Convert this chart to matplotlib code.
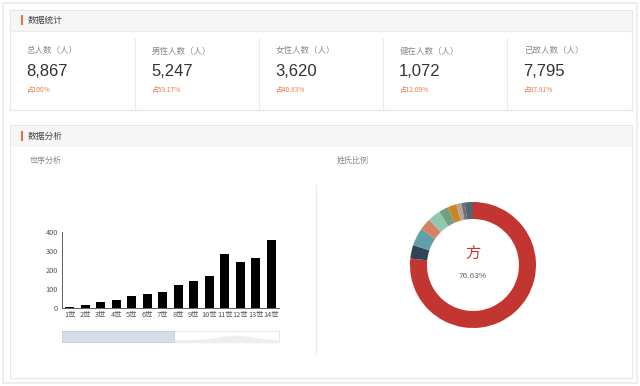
import matplotlib
matplotlib.use("Agg")
import matplotlib.pyplot as plt
from matplotlib.patches import Rectangle
import numpy as np

plt.rcParams['font.family'] = ['Noto Sans CJK SC', 'DejaVu Sans']

# ---------------- data ----------------
stat_labels = ["总人数（人）", "男性人数（人）", "女性人数（人）", "健在人数（人）", "已故人数（人）"]
stat_values = ["8,867", "5,247", "3,620", "1,072", "7,795"]
stat_pcts = ["占100%", "占59.17%", "占40.83%", "占12.09%", "占87.91%"]

generations = ["1世", "2世", "3世", "4世", "5世", "6世", "7世", "8世", "9世", "10世", "11世", "12世", "13世", "14世"]
gen_counts = [4, 18, 30, 42, 63, 75, 86, 119, 144, 168, 284, 242, 263, 356]
yticks = [0, 100, 200, 300, 400]

surnames = ["方", "姓2", "姓3", "姓4", "姓5", "姓6", "姓7", "姓8", "姓9", "姓10"]
surname_pcts = [76.63, 3.5, 4.5, 3.1, 3.3, 2.5, 2.2, 1.3, 0.9, 2.07]
pie_colors = ['#c23531', '#2f4554', '#61a0a8', '#d48265', '#91c7ae', '#749f83',
              '#ca8622', '#bda29a', '#6e7074', '#546570', '#c4ccd3']

W, H = 640, 386
fig = plt.figure(figsize=(W / 100, H / 100), dpi=100)
bg = fig.add_axes([0, 0, 1, 1])
bg.set_xlim(0, W)
bg.set_ylim(H, 0)
bg.axis('off')

def rect(x, y, w, h, fc='none', ec='none', lw=0.8, z=1):
    bg.add_patch(Rectangle((x, y), w, h, facecolor=fc, edgecolor=ec, linewidth=lw, zorder=z))

# page border
rect(3, 3, 634, 380, fc='white', ec='#eeeeee', lw=1.5)

# panel 1
rect(10, 10, 622, 100, fc='white', ec='#e6e6e6', lw=0.8)
rect(10.5, 10.5, 621, 20, fc='#f6f6f6', ec='none')
bg.plot([10, 632], [30.5, 30.5], color='#ececec', lw=0.8)
rect(21, 15, 2, 10, fc='#ee6e43', z=3)
bg.text(28, 20, "数据统计", fontsize=6.3, color='#444444', va='center', ha='left')

num_font = ['Liberation Sans', 'DejaVu Sans']
card_x = [10, 135, 259, 383, 507, 632]
for i in range(5):
    x0 = card_x[i]
    if i > 0:
        bg.plot([x0, x0], [38, 110], color='#ececec', lw=0.8)
    bg.text(x0 + 17, 51, stat_labels[i], fontsize=6.1, color='#8a8a8a', va='center', ha='left')
    bg.text(x0 + 16, 72, stat_values[i], fontsize=12, color='#333333', va='center', ha='left',
            family=num_font)
    bg.text(x0 + 17, 90, stat_pcts[i], fontsize=4.8, color='#f07a4a', va='center', ha='left')
bg.plot([10, 632], [110, 110], color='#e6e6e6', lw=0.8)

# panel 2
rect(10, 125, 622, 253, fc='white', ec='#e6e6e6', lw=0.8)
rect(10.5, 125.5, 621, 21, fc='#f6f6f6', ec='none')
rect(21, 131, 2, 10, fc='#ee6e43', z=3)
bg.text(28, 136.5, "数据分析", fontsize=6.3, color='#444444', va='center', ha='left')
bg.text(30, 160, "世序分析", fontsize=5.8, color='#8a8a8a', va='center', ha='left')
bg.text(337, 160, "姓氏比例", fontsize=5.8, color='#8a8a8a', va='center', ha='left')
bg.plot([315.5, 315.5], [185, 352], color='#ececec', lw=1.0)

# ---------------- bar chart ----------------
ax_l, ax_r, ax_t, ax_b = 62, 279, 232, 308
ax = fig.add_axes([ax_l / W, 1 - ax_b / H, (ax_r - ax_l) / W, (ax_b - ax_t) / H])
x = np.arange(len(generations))
ax.bar(x, gen_counts, width=0.55, color='black', zorder=3)
ax.set_xlim(-0.5, len(generations) - 0.5)
ax.set_ylim(0, 400)
ax.set_yticks(yticks)
ax.set_yticklabels([str(v) for v in yticks], fontsize=5.3, color='#555555')
ax.set_xticks(x)
ax.set_xticklabels(generations, fontsize=5.3, color='#555555')
ax.tick_params(axis='both', length=0, pad=3)
ax.tick_params(axis='x', pad=2)
for s in ['top', 'right']:
    ax.spines[s].set_visible(False)
ax.spines['left'].set_color('#444444')
ax.spines['bottom'].set_color('#444444')
ax.spines['left'].set_linewidth(0.6)
ax.spines['bottom'].set_linewidth(0.6)
ax.patch.set_alpha(0)

# data zoom slider
sl_t, sl_b = 331, 342
rect(ax_l, sl_t, ax_r - ax_l, sl_b - sl_t, fc='white', ec='#e4e4e4', lw=0.6, z=2)
rect(ax_l, sl_t, 174 - ax_l, sl_b - sl_t, fc='#d6dce8', ec='#c9cfdb', lw=0.6, z=3)
sx = np.linspace(174, ax_r, 50)
shade = sl_b - 4.5 * np.exp(-((sx - 235) / 25) ** 2) - 1.5
bg.fill_between(sx, shade, sl_b, color='#eeeeee', zorder=2.5)

# ---------------- donut ----------------
cx, cy = 473, 265
r_out, r_in = 63, 46
px_ax = fig.add_axes([(cx - r_out - 2) / W, 1 - (cy + r_out + 2) / H,
                      (2 * r_out + 4) / W, (2 * r_out + 4) / H])
px_ax.pie(surname_pcts, colors=pie_colors[:len(surname_pcts)], startangle=90,
          counterclock=False, radius=1.0,
          wedgeprops=dict(width=(r_out - r_in) / r_out, edgecolor='none'))
px_ax.set_xlim(-(r_out + 2) / r_out, (r_out + 2) / r_out)
px_ax.set_ylim(-(r_out + 2) / r_out, (r_out + 2) / r_out)
px_ax.set_aspect('equal')
px_ax.axis('off')

bg.text(cx, 254, surnames[0], fontsize=11, color='#c23531', ha='center', va='center')
bg.text(cx, 277, f"{surname_pcts[0]:.2f}%", fontsize=6, color='#666666', ha='center', va='center',
        family=num_font)

fig.savefig("out.png", dpi=100)
